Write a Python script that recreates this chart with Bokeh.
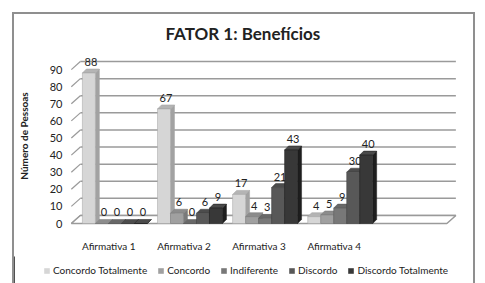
from bokeh.plotting import figure
from bokeh.models import Range1d, FixedTicker, Legend, LegendItem, ColumnDataSource, Title
from bokeh.embed import file_html
from bokeh.resources import INLINE
from bokeh.core.properties import value

# ---- data ----
categories = ["Afirmativa 1", "Afirmativa 2", "Afirmativa 3", "Afirmativa 4"]
series_names = ["Concordo Totalmente", "Concordo", "Indiferente", "Discordo", "Discordo Totalmente"]
concordo_totalmente = [88, 67, 17, 4]
concordo = [0, 6, 4, 5]
indiferente = [0, 0, 3, 9]
discordo = [0, 6, 21, 30]
discordo_totalmente = [0, 9, 43, 40]
y_ticks = [0, 10, 20, 30, 40, 50, 60, 70, 80, 90]
n_slots = 5  # Excel reserved an empty fifth category slot

series_values = [concordo_totalmente, concordo, indiferente, discordo, discordo_totalmente]

# ---- style ----
front_colors = ["#d6d6d6", "#a0a0a0", "#787878", "#585858", "#383838"]
side_colors = ["#a2a2a2", "#7a7a7a", "#5a5a5a", "#3a3a3a", "#1e1e1e"]
top_colors = ["#b4b4b4", "#8c8c8c", "#686868", "#4c4c4c", "#4a4a4a"]
FONT = "Lato"
TXT = "#222222"
GRID = "#9a9a9a"
BORDER = "#8f8f8f"

bar_w = 0.173
bar_shift = 0.08
ddx, ddy = 0.053, 2.34      # bar depth
wdx, wdy = 0.12, 4.7        # wall depth

p = figure(width=463, height=244, output_backend="svg", toolbar_location=None,
           x_range=Range1d(0.489, 5.655), y_range=Range1d(-1.754, 104.09),
           min_border_left=54, min_border_right=19, min_border_top=31, min_border_bottom=32)
p.margin = (12, 0, 0, 12)
p.styles = {"border-style": "solid", "border-color": BORDER, "border-width": "2px 2px 0 2px"}
p.outline_line_color = None
p.grid.visible = False
p.background_fill_color = "white"
p.border_fill_color = "white"

p.title = Title(text="FATOR 1: Benefícios", align="left", offset=95, text_font=FONT,
                text_font_size="17px", text_font_style="bold", text_color=TXT, standoff=4)

# axes
cat_x = [i + 1 for i in range(len(categories))]
p.xaxis.ticker = FixedTicker(ticks=cat_x)
p.xaxis.major_label_overrides = {x: c for x, c in zip(cat_x, categories)}
p.yaxis.ticker = FixedTicker(ticks=y_ticks)
for ax in (p.xaxis, p.yaxis):
    ax.axis_line_color = None
    ax.major_tick_line_color = None
    ax.minor_tick_line_color = None
    ax.major_tick_out = 0
    ax.major_tick_in = 0
    ax.minor_tick_out = 0
    ax.minor_tick_in = 0
    ax.major_label_text_font = FONT
    ax.major_label_text_color = TXT
p.xaxis.major_label_text_font_size = "10px"
p.yaxis.major_label_text_font_size = "11px"
p.xaxis.major_label_standoff = 13
p.yaxis.major_label_standoff = 8
p.yaxis.axis_label = "Número de Pessoas"
p.yaxis.axis_label_text_font = FONT
p.yaxis.axis_label_text_font_size = "10px"
p.yaxis.axis_label_text_font_style = "bold"
p.yaxis.axis_label_text_color = TXT
p.yaxis.axis_label_standoff = 17

# back wall gridlines, left wall diagonals, floor
x_left, x_right = 0.5, n_slots + 0.5
p.segment(x0=[x_left + wdx] * len(y_ticks), y0=[v + wdy for v in y_ticks],
          x1=[x_right + wdx] * len(y_ticks), y1=[v + wdy for v in y_ticks],
          line_color=GRID, line_width=1.5)
p.segment(x0=[x_left] * len(y_ticks), y0=y_ticks,
          x1=[x_left + wdx] * len(y_ticks), y1=[v + wdy for v in y_ticks],
          line_color=GRID, line_width=1.2)
p.patch(x=[x_left, x_right, x_right + wdx, x_left + wdx],
        y=[0, 0, wdy, wdy], fill_color="white", line_color=GRID, line_width=1.5)

# legend strip: separate root so the legend can start left of the plot frame
p2 = figure(width=463, height=30, output_backend="svg", toolbar_location=None,
            x_axis_type=None, y_axis_type=None, x_range=Range1d(100, 101), y_range=Range1d(0, 1),
            min_border_left=0, min_border_right=0, min_border_top=0, min_border_bottom=0)
p2.margin = (0, 0, 0, 12)
p2.styles = {"border-style": "solid", "border-color": BORDER, "border-width": "0 2px 0 2px"}
p2.outline_line_color = None
p2.grid.visible = False
p2.background_fill_color = "white"
p2.border_fill_color = "white"

# bars with simple 3D faces
legend_items = []
for j, vals in enumerate(series_values):
    xc = [c + bar_shift + (j - 2) * bar_w for c in cat_x]
    lefts = [x - bar_w / 2 for x in xc]
    rights = [x + bar_w / 2 for x in xc]
    side_xs = [[r, r + ddx, r + ddx, r] for r in rights]
    side_ys = [[0, ddy, v + ddy, v] for v in vals]
    p.patches(xs=side_xs, ys=side_ys, fill_color=side_colors[j], line_color=side_colors[j], line_width=0.5)
    top_xs = [[l, l + ddx, r + ddx, r] for l, r in zip(lefts, rights)]
    top_ys = [[v, v + ddy, v + ddy, v] for v in vals]
    p.patches(xs=top_xs, ys=top_ys, fill_color=top_colors[j], line_color=side_colors[j], line_width=0.5)
    src = ColumnDataSource(dict(x=xc, top=vals, lab=[str(v) for v in vals],
                                lx=[x + ddx / 2 for x in xc], ly=[v + ddy for v in vals]))
    p.vbar(x="x", top="top", bottom=0, width=bar_w, source=src,
           fill_color=front_colors[j], line_color=side_colors[j], line_width=0.5)
    p.text(x="lx", y="ly", text="lab", source=src, text_align="center", text_baseline="bottom",
           y_offset=-3, text_font=value(FONT), text_font_size="11px", text_color=TXT)
    # legend proxy: same bars, outside the strip's visible range
    r2 = p2.vbar(x="x", top="top", bottom=0, width=bar_w, source=src,
                 fill_color=front_colors[j], line_color=None)
    legend_items.append(LegendItem(label=series_names[j], renderers=[r2]))

legend = Legend(items=legend_items, orientation="horizontal", location=(29, 10),
                label_text_font=FONT, label_text_font_size="10px", label_text_color=TXT,
                glyph_width=7, glyph_height=7, label_height=12, label_standoff=3,
                spacing=10, padding=0, margin=0, border_line_color=None,
                background_fill_alpha=0)
p2.add_layout(legend, "center")

open("out.html", "w").write(file_html([p, p2], INLINE))
